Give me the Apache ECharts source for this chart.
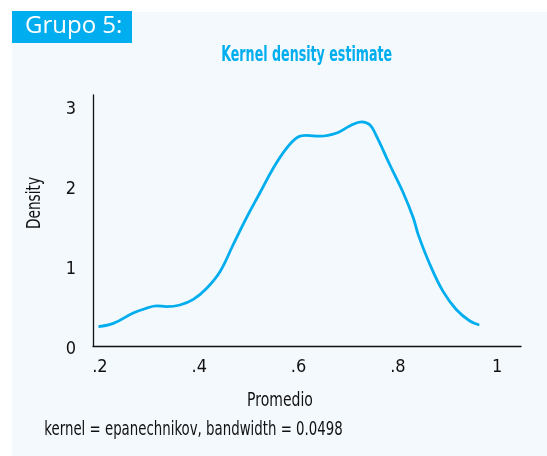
<!DOCTYPE html>
<html>
<head>
<meta charset="utf-8">
<script src="https://cdn.jsdelivr.net/npm/echarts@6/dist/echarts.min.js"></script>
<style>
html,body{margin:0;padding:0;background:#ffffff;}
#chart{width:547px;height:456px;}
</style>
</head>
<body>
<div id="chart"></div>
<script>
const promedio = [0.197,0.227,0.267,0.294,0.314,0.334,0.361,0.388,0.415,0.442,0.468,0.495,0.522,0.549,0.576,0.599,0.616,0.643,0.677,0.704,0.727,0.744,0.757,0.784,0.811,0.831,0.841,0.865,0.891,0.918,0.945,0.964];
const density  = [0.23,0.27,0.40,0.46,0.49,0.48,0.50,0.57,0.71,0.92,1.25,1.59,1.90,2.21,2.46,2.60,2.62,2.61,2.65,2.74,2.79,2.75,2.61,2.25,1.90,1.59,1.38,1.00,0.67,0.44,0.30,0.25];
const xTicks = [0.2,0.4,0.6,0.8,1];
const xTickLabels = ['.2','.4','.6','.8','1'];
const yTicks = [0,1,2,3];
const yTickLabels = ['0','1','2','3'];

const narrow = '"DejaVu Sans Condensed","Liberation Sans Narrow",sans-serif';
const blue = '#00aeef';
const ink = '#111111';

const chart = echarts.init(document.getElementById('chart'), null, {renderer:'canvas'});
chart.setOption({
  backgroundColor: '#ffffff',
  animation: false,
  graphic: [
    {type:'rect', shape:{x:12,y:12,width:535,height:444}, style:{fill:'#f4f9fd'}, z:-10, silent:true},
    {type:'rect', shape:{x:12,y:11,width:120,height:32}, style:{fill:blue}, z:-5, silent:true},
    {type:'text', x:25, y:26.5, style:{text:'Grupo 5:', fill:'#ffffff', font:'24px "Open Sans", sans-serif', verticalAlign:'middle', align:'left'}},
    {type:'text', x:306.7, y:55.5, scaleX:0.64, style:{text:'Kernel density estimate', fill:blue, font:'bold 22px ' + narrow, verticalAlign:'middle', align:'center'}},
    {type:'text', x:280, y:401.5, scaleX:0.82, style:{text:'Promedio', fill:ink, font:'19px ' + narrow, verticalAlign:'middle', align:'center'}},
    {type:'text', x:35, y:203, rotation:Math.PI/2, scaleX:0.8, style:{text:'Density', fill:ink, font:'19px ' + narrow, verticalAlign:'middle', align:'center'}},
    {type:'text', x:193.5, y:430, scaleX:0.78, style:{text:'kernel = epanechnikov, bandwidth = 0.0498', fill:ink, font:'19px ' + narrow, verticalAlign:'middle', align:'center'}}
  ],
  grid: {left: 93, right: 26, top: 95, bottom: 110},
  xAxis: {
    type: 'value', min: 0.186, max: 1.048,
    axisLine: {show: true, onZero: false, lineStyle: {color: ink, width: 1.3}},
    axisTick: {show: false},
    splitLine: {show: false},
    axisLabel: {
      customValues: xTicks, margin: 12,
      fontFamily: narrow, fontSize: 18, color: ink,
      formatter: v => { const i = xTicks.findIndex(t => Math.abs(t - v) < 1e-6); return i >= 0 ? xTickLabels[i] : ''; }
    }
  },
  yAxis: {
    type: 'value', min: -0.0125, max: 3.125,
    axisLine: {show: true, onZero: false, lineStyle: {color: ink, width: 1.3}},
    axisTick: {show: false},
    splitLine: {show: false},
    axisLabel: {
      customValues: yTicks, margin: 17,
      fontFamily: narrow, fontSize: 18, color: ink,
      formatter: v => { const i = yTicks.findIndex(t => Math.abs(t - v) < 1e-6); return i >= 0 ? '{t|' + yTickLabels[i] + '}' : ''; },
      rich: {t: {fontFamily: narrow, fontSize: 18, color: ink, padding: [8, 0, 0, 0]}}
    }
  },
  series: [{
    type: 'line',
    data: promedio.map((x, i) => [x, density[i]]),
    smooth: 0.4,
    showSymbol: false,
    lineStyle: {color: blue, width: 2.8},
    itemStyle: {color: blue}
  }]
});
</script>
</body>
</html>
